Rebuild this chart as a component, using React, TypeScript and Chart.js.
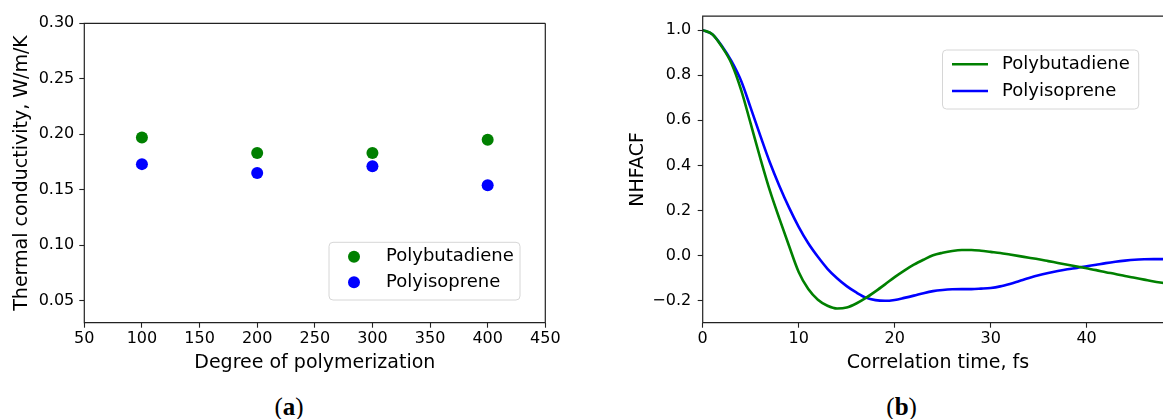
import React, { useEffect, useRef } from 'react';
import { Chart, registerables } from 'chart.js';

Chart.register(...registerables);

// ---------- data ----------
const seriesNames = ['Polybutadiene', 'Polyisoprene'];
const seriesColors = ['#008000', '#0000ff'];

// (a) thermal conductivity vs degree of polymerization
const degreeOfPolymerization = [100, 200, 300, 400];
const conductivityPolybutadiene = [0.197, 0.183, 0.183, 0.195];
const conductivityPolyisoprene = [0.173, 0.165, 0.171, 0.154];

// (b) normalized heat flux autocorrelation function
const correlationTime = [
  0, 1, 2, 3, 4, 5, 6, 7, 8, 9, 10, 11, 12, 13, 14, 15, 16, 17, 18, 19, 20, 21, 22, 23, 24,
  25, 26, 27, 28, 29, 30, 31, 32, 33, 34, 35, 36, 37, 38, 39, 40, 41, 42, 43, 44, 45, 46, 47, 48,
];
const nhfacfPolybutadiene = [
  1.0, 0.982, 0.926, 0.852, 0.735, 0.585, 0.432, 0.288, 0.163, 0.043, -0.072, -0.148, -0.195,
  -0.222, -0.234, -0.23, -0.212, -0.187, -0.158, -0.127, -0.095, -0.066, -0.04, -0.018, 0.002,
  0.013, 0.021, 0.025, 0.025, 0.022, 0.017, 0.012, 0.005, -0.002, -0.009, -0.016, -0.024,
  -0.032, -0.04, -0.048, -0.056, -0.064, -0.073, -0.081, -0.09, -0.098, -0.106, -0.114, -0.121,
];
const nhfacfPolyisoprene = [
  1.0, 0.982, 0.93, 0.862, 0.775, 0.655, 0.532, 0.413, 0.308, 0.213, 0.128, 0.055, -0.005,
  -0.058, -0.1, -0.135, -0.163, -0.186, -0.197, -0.2, -0.196, -0.187, -0.177, -0.166, -0.157,
  -0.152, -0.149, -0.148, -0.148, -0.146, -0.143, -0.136, -0.125, -0.112, -0.099, -0.087,
  -0.077, -0.068, -0.06, -0.054, -0.047, -0.04, -0.033, -0.027, -0.022, -0.018, -0.016, -0.015,
  -0.015,
];

// tick labels
const ticksDegree = [50, 100, 150, 200, 250, 300, 350, 400, 450];
const ticksConductivity = [0.05, 0.1, 0.15, 0.2, 0.25, 0.3];
const ticksTime = [0, 10, 20, 30, 40];
const ticksNhfacf = [-0.2, 0, 0.2, 0.4, 0.6, 0.8, 1.0];

// ---------- plugins ----------
const framePlugin = {
  id: 'frame',
  afterDraw(chart: any, _args: any, opts: any) {
    const { ctx, chartArea } = chart;
    const { left, right, top, bottom } = chartArea;
    ctx.save();
    ctx.strokeStyle = opts.color || '#222';
    ctx.lineWidth = opts.width || 1.2;
    ctx.beginPath();
    ctx.moveTo(right, top);
    ctx.lineTo(left, top);
    ctx.lineTo(left, bottom);
    ctx.lineTo(right, bottom);
    if (opts.closeRight) ctx.lineTo(right, top);
    ctx.stroke();
    ctx.restore();
  },
};

function roundRectPath(ctx: CanvasRenderingContext2D, x: number, y: number, w: number, h: number, r: number) {
  ctx.beginPath();
  ctx.moveTo(x + r, y);
  ctx.lineTo(x + w - r, y);
  ctx.arcTo(x + w, y, x + w, y + r, r);
  ctx.lineTo(x + w, y + h - r);
  ctx.arcTo(x + w, y + h, x + w - r, y + h, r);
  ctx.lineTo(x + r, y + h);
  ctx.arcTo(x, y + h, x, y + h - r, r);
  ctx.lineTo(x, y + r);
  ctx.arcTo(x, y, x + r, y, r);
  ctx.closePath();
}

const boxLegendPlugin = {
  id: 'boxLegend',
  afterDatasetsDraw(chart: any, _args: any, opts: any) {
    const { ctx } = chart;
    const [x0, y0, x1, y1] = opts.box;
    ctx.save();
    roundRectPath(ctx, x0, y0, x1 - x0, y1 - y0, 4);
    ctx.fillStyle = 'rgba(255,255,255,0.8)';
    ctx.fill();
    ctx.strokeStyle = '#d6d6d6';
    ctx.lineWidth = 1;
    ctx.stroke();
    chart.data.datasets.forEach((ds: any, i: number) => {
      const cy = opts.rows[i];
      const [h0, h1] = opts.handleX;
      if (opts.kind === 'point') {
        ctx.beginPath();
        ctx.arc((h0 + h1) / 2, cy, opts.radius, 0, Math.PI * 2);
        ctx.fillStyle = ds.backgroundColor;
        ctx.fill();
      } else {
        ctx.beginPath();
        ctx.moveTo(h0, cy);
        ctx.lineTo(h1, cy);
        ctx.strokeStyle = ds.borderColor;
        ctx.lineWidth = opts.lineWidth;
        ctx.stroke();
      }
      ctx.fillStyle = '#000';
      ctx.font = `${opts.fontSize}px "DejaVu Sans"`;
      ctx.textBaseline = 'middle';
      ctx.textAlign = 'left';
      ctx.fillText(ds.label, opts.textX, cy);
    });
    ctx.restore();
  },
};

const fmtMinus = (s: string) => s.replace('-', '\u2212');

function axisCommon(tickVals: number[], fmt: (v: number) => string, pad: number) {
  return {
    afterBuildTicks: (ax: any) => {
      ax.ticks = tickVals.map((v) => ({ value: v }));
    },
    ticks: {
      callback: (v: any) => fmt(Number(v)),
      font: { size: 16 },
      color: '#000',
      padding: pad,
      maxRotation: 0,
      autoSkip: false,
    },
    grid: {
      display: true,
      drawOnChartArea: false,
      drawTicks: true,
      tickLength: 5,
      tickColor: '#222',
      tickWidth: 1.1,
    },
    border: { display: false },
  };
}

export default function App() {
  const refA = useRef<HTMLCanvasElement>(null);
  const refB = useRef<HTMLCanvasElement>(null);

  useEffect(() => {
    Chart.defaults.font.family = '"DejaVu Sans"';
    Chart.defaults.color = '#000';

    const chartA = new Chart(refA.current as HTMLCanvasElement, {
      type: 'scatter',
      data: {
        datasets: [
          {
            label: seriesNames[0],
            data: degreeOfPolymerization.map((x, i) => ({ x, y: conductivityPolybutadiene[i] })),
            backgroundColor: seriesColors[0],
            borderColor: seriesColors[0],
            borderWidth: 0,
            pointRadius: 6,
            pointHoverRadius: 6,
          },
          {
            label: seriesNames[1],
            data: degreeOfPolymerization.map((x, i) => ({ x, y: conductivityPolyisoprene[i] })),
            backgroundColor: seriesColors[1],
            borderColor: seriesColors[1],
            borderWidth: 0,
            pointRadius: 6,
            pointHoverRadius: 6,
          },
        ],
      },
      options: {
        responsive: false,
        animation: false,
        devicePixelRatio: 1,
        layout: { padding: { left: 0, top: 23.3, right: 34.7, bottom: 0 } },
        plugins: {
          legend: { display: false },
          tooltip: { enabled: false },
          frame: { color: '#222', width: 1.2, closeRight: true },
          boxLegend: {
            box: [329, 242.3, 520, 300],
            rows: [256.7, 282.3],
            handleX: [336, 372],
            textX: 386,
            kind: 'point',
            radius: 6,
            fontSize: 18,
          },
        } as any,
        scales: {
          x: {
            type: 'linear',
            min: 50,
            max: 450,
            ...axisCommon(ticksDegree, (v) => String(v), 2),
            afterFit: (ax: any) => {
              ax.height = 57.3;
            },
            title: {
              display: true,
              text: 'Degree of polymerization',
              font: { size: 19 },
              color: '#000',
              padding: { top: 0, bottom: 6 },
            },
          } as any,
          y: {
            type: 'linear',
            min: 0.03,
            max: 0.3,
            ...axisCommon(ticksConductivity, (v) => v.toFixed(2), 5),
            afterFit: (ax: any) => {
              ax.width = 84.3;
            },
            title: {
              display: true,
              text: 'Thermal conductivity, W/m/K',
              font: { size: 19 },
              color: '#000',
              padding: { top: 11, bottom: 0 },
            },
          } as any,
        },
      },
      plugins: [framePlugin, boxLegendPlugin],
    });

    const chartB = new Chart(refB.current as HTMLCanvasElement, {
      type: 'line',
      data: {
        datasets: [
          {
            label: seriesNames[0],
            data: correlationTime.map((x, i) => ({ x, y: nhfacfPolybutadiene[i] })),
            borderColor: seriesColors[0],
            backgroundColor: seriesColors[0],
            borderWidth: 2.6,
            pointRadius: 0,
            cubicInterpolationMode: 'monotone',
            fill: false,
          },
          {
            label: seriesNames[1],
            data: correlationTime.map((x, i) => ({ x, y: nhfacfPolyisoprene[i] })),
            borderColor: seriesColors[1],
            backgroundColor: seriesColors[1],
            borderWidth: 2.6,
            pointRadius: 0,
            cubicInterpolationMode: 'monotone',
            fill: false,
          },
        ],
      },
      options: {
        responsive: false,
        animation: false,
        devicePixelRatio: 1,
        layout: { padding: { left: 0, top: 16, right: 0, bottom: 0 } },
        plugins: {
          legend: { display: false },
          tooltip: { enabled: false },
          frame: { color: '#222', width: 1.2, closeRight: true },
          boxLegend: {
            box: [362.5, 50, 558.7, 109],
            rows: [64.3, 91],
            handleX: [372, 408],
            textX: 422,
            kind: 'line',
            lineWidth: 2.6,
            fontSize: 18,
          },
        } as any,
        scales: {
          x: {
            type: 'linear',
            min: 0,
            max: 49,
            ...axisCommon(ticksTime, (v) => String(v), 2),
            afterFit: (ax: any) => {
              ax.height = 57.3;
            },
            title: {
              display: true,
              text: 'Correlation time, fs',
              font: { size: 19 },
              color: '#000',
              padding: { top: 0, bottom: 5.5 },
            },
          } as any,
          y: {
            type: 'linear',
            min: -0.297,
            max: 1.062,
            ...axisCommon(ticksNhfacf, (v) => fmtMinus(v.toFixed(1)), 6.5),
            afterFit: (ax: any) => {
              ax.width = 122.7;
            },
            title: {
              display: true,
              text: 'NHFACF',
              font: { size: 19 },
              color: '#000',
              padding: { top: 46.2, bottom: 0 },
            },
          } as any,
        },
      },
      plugins: [framePlugin, boxLegendPlugin],
    });

    return () => {
      chartA.destroy();
      chartB.destroy();
    };
  }, []);

  const captionStyle = (cx: number): React.CSSProperties => ({
    position: 'absolute',
    left: cx - 50,
    top: 392,
    width: 100,
    height: 30,
    lineHeight: '30px',
    textAlign: 'center',
    fontFamily: '"Liberation Serif", "DejaVu Serif", serif',
    fontSize: 25,
    color: '#000',
  });

  return (
    <div
      style={{
        position: 'fixed',
        left: 0,
        top: 0,
        width: 1163,
        height: 419,
        overflow: 'hidden',
        background: '#fff',
      }}
    >
      <canvas
        ref={refA}
        width={580}
        height={380}
        style={{ position: 'absolute', left: 0, top: 0, width: 580, height: 380 }}
      />
      <canvas
        ref={refB}
        width={593}
        height={380}
        style={{ position: 'absolute', left: 580, top: 0, width: 593, height: 380 }}
      />
      <div style={captionStyle(289)}>
        (<b>a</b>)
      </div>
      <div style={captionStyle(901.6)}>
        (<b>b</b>)
      </div>
    </div>
  );
}
